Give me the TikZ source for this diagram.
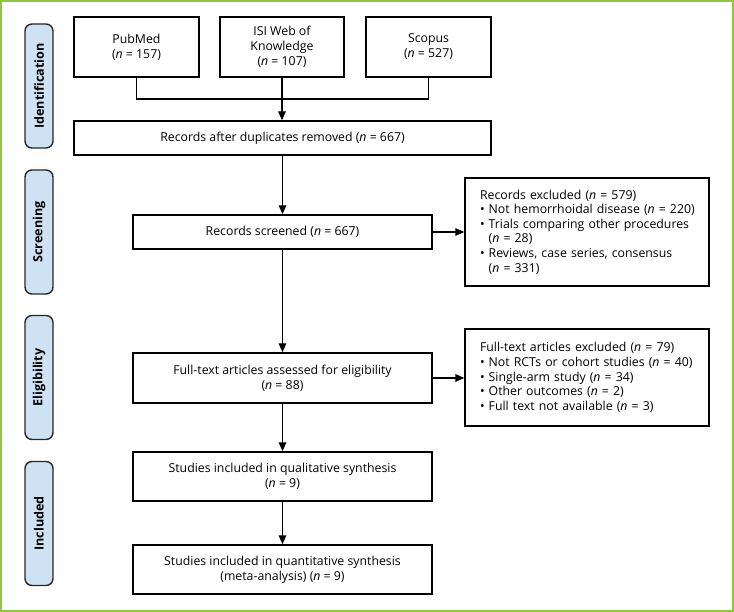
\documentclass[tikz,border=0pt]{standalone}
\usepackage{fontspec}
\setmainfont{Open Sans}
\usetikzlibrary{arrows.meta}
\definecolor{framegreen}{RGB}{141,198,63}
\definecolor{phasefill}{RGB}{207,226,243}
\tikzset{
  box/.style={draw=black, line width=1.4pt, fill=white, align=center, inner sep=0pt,
    font=\fontsize{12.3}{15}\selectfont},
  exbox/.style={draw=black, line width=1.4pt, fill=white, align=left, inner sep=0pt,
    font=\fontsize{12.3}{14.6}\selectfont},
  phase/.style={draw=black!85, line width=1.4pt, fill=phasefill, rounded corners=7pt,
    minimum width=28pt, minimum height=124pt, inner sep=0pt,
    font=\bfseries\fontsize{12.6}{14}\selectfont},
  conn/.style={line width=1.4pt},
  arr/.style={line width=1.4pt, -{Stealth[length=9pt,width=7.5pt,inset=0pt]}},
}
\newcommand{\nn}{\textit{n}}
\begin{document}
\begin{tikzpicture}[x=1pt,y=-1pt]
\useasboundingbox (0,0) rectangle (734,612);
\draw[framegreen, line width=2pt] (1,1) rectangle (733,611);

% phase labels
\node[phase] (pid) at (39,86) {\rotatebox{90}{Identification}};
\node[phase] (psc) at (39,232) {\rotatebox{90}{Screening}};
\node[phase] (pel) at (39,377.5) {\rotatebox{90}{Eligibility}};
\node[phase] (pin) at (39,523.5) {\rotatebox{90}{Included}};

% identification
\node[box, minimum width=125pt, minimum height=60pt] (pub) at (136.5,47) {PubMed\\(\nn{} = 157)};
\node[box, minimum width=124pt, minimum height=60pt] (isi) at (282,47) {ISI Web of\\Knowledge\\(\nn{} = 107)};
\node[box, minimum width=125pt, minimum height=60pt] (sco) at (428.5,47) {Scopus\\(\nn{} = 527)};
\node[box, minimum width=417pt, minimum height=34pt] (dup) at (282.5,138) {Records after duplicates removed (\nn{} = 667)};

% screening
\node[box, minimum width=299pt, minimum height=34pt] (scr) at (282.5,232) {Records screened (\nn{} = 667)};
\node[exbox, minimum width=244pt, minimum height=108pt, text width=214pt] (ex1) at (587,232) {\mbox{Records excluded (\nn{} = 579)}\\
\mbox{\textbullet\ Not hemorrhoidal disease (\nn{} = 220)}\\
\mbox{\textbullet\ Trials comparing other procedures}\\
\mbox{\phantom{\textbullet\ }(\nn{} = 28)}\\
\mbox{\textbullet\ Reviews, case series, consensus}\\
\mbox{\phantom{\textbullet\ }(\nn{} = 331)}};

% eligibility
\node[box, minimum width=299pt, minimum height=50pt] (ft) at (282.5,378) {Full-text articles assessed for eligibility\\(\nn{} = 88)};
\node[exbox, minimum width=244pt, minimum height=97pt, text width=214pt] (ex2) at (587,377.5) {\mbox{Full-text articles excluded (\nn{} = 79)}\\
\mbox{\textbullet\ Not RCTs or cohort studies (\nn{} = 40)}\\
\mbox{\textbullet\ Single-arm study (\nn{} = 34)}\\
\mbox{\textbullet\ Other outcomes (\nn{} = 2)}\\
\mbox{\textbullet\ Full text not available (\nn{} = 3)}};

% included
\node[box, minimum width=299pt, minimum height=49pt] (qual) at (282.5,476.5) {Studies included in qualitative synthesis\\(\nn{} = 9)};
\node[box, minimum width=299pt, minimum height=49pt] (quant) at (282.5,569.5) {Studies included in quantitative synthesis\\(meta-analysis) (\nn{} = 9)};

% connectors
\coordinate (jl) at (pub.south |- 0,99);
\coordinate (jr) at (sco.south |- 0,99);
\draw[conn] (pub.south) -- (jl) -- (jr) -- (sco.south);
\draw[arr] (isi.south) -- (isi.south |- dup.north);
\draw[arr] (dup.south -| scr.north) -- (scr.north);
\draw[arr] (scr.south) -- (ft.north);
\draw[arr] (ft.south) -- (qual.north);
\draw[arr] (qual.south) -- (quant.north);
\draw[arr] (scr.east) -- (scr.east -| ex1.west);
\draw[arr] (ft.east) -- (ft.east -| ex2.west);
\end{tikzpicture}
\end{document}
